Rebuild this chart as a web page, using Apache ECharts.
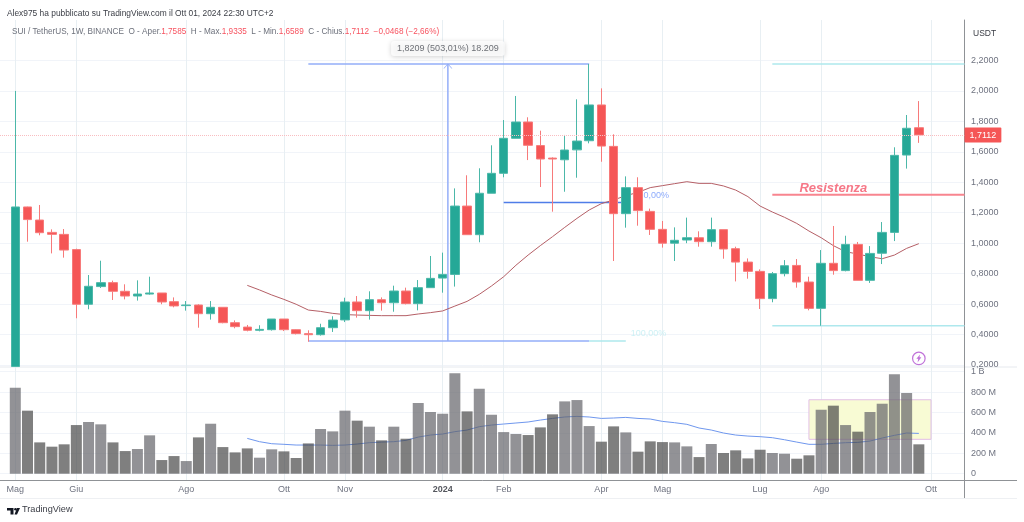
<!DOCTYPE html>
<html>
<head>
<meta charset="utf-8">
<style>
  html, body { margin: 0; padding: 0; background: #fff; }
  #chart { width: 1024px; height: 522px; }
</style>
<script src="https://cdn.jsdelivr.net/npm/echarts@6/dist/echarts.min.js"></script>
</head>
<body>
<div id="chart"></div>
<script>
var weeks = [
  '2023-05-01','2023-05-08','2023-05-15','2023-05-22','2023-05-29','2023-06-05','2023-06-12','2023-06-19','2023-06-26','2023-07-03',
  '2023-07-10','2023-07-17','2023-07-24','2023-07-31','2023-08-07','2023-08-14','2023-08-21','2023-08-28','2023-09-04','2023-09-11',
  '2023-09-18','2023-09-25','2023-10-02','2023-10-09','2023-10-16','2023-10-23','2023-10-30','2023-11-06','2023-11-13','2023-11-20',
  '2023-11-27','2023-12-04','2023-12-11','2023-12-18','2023-12-25','2024-01-01','2024-01-08','2024-01-15','2024-01-22','2024-01-29',
  '2024-02-05','2024-02-12','2024-02-19','2024-02-26','2024-03-04','2024-03-11','2024-03-18','2024-03-25','2024-04-01','2024-04-08',
  '2024-04-15','2024-04-22','2024-04-29','2024-05-06','2024-05-13','2024-05-20','2024-05-27','2024-06-03','2024-06-10','2024-06-17',
  '2024-06-24','2024-07-01','2024-07-08','2024-07-15','2024-07-22','2024-07-29','2024-08-05','2024-08-12','2024-08-19','2024-08-26',
  '2024-09-02','2024-09-09','2024-09-16','2024-09-23','2024-09-30'
];
var opens = [
  0.19,1.238,1.152,1.071,1.058,0.958,0.599,0.715,0.741,0.684,
  0.653,0.666,0.673,0.616,0.590,0.594,0.537,0.579,0.478,0.449,
  0.428,0.432,0.502,0.432,0.406,0.399,0.445,0.496,0.614,0.557,
  0.629,0.609,0.686,0.603,0.708,0.771,0.795,1.244,1.056,1.328,
  1.459,1.689,1.796,1.641,1.559,1.548,1.613,1.673,1.908,1.636,
  1.194,1.365,1.209,1.091,1.000,1.021,1.036,1.010,1.089,0.964,
  0.876,0.815,0.636,0.800,0.854,0.745,0.572,0.868,0.820,0.992,
  0.756,0.934,1.071,1.579,1.7585
];
var closes = [
  1.238,1.155,1.069,1.058,0.955,0.599,0.717,0.741,0.684,0.653,
  0.666,0.673,0.614,0.588,0.594,0.537,0.579,0.478,0.452,0.428,
  0.434,0.502,0.432,0.406,0.399,0.445,0.495,0.614,0.557,0.629,
  0.609,0.686,0.603,0.708,0.769,0.795,1.244,1.056,1.328,1.459,
  1.689,1.796,1.643,1.553,1.553,1.612,1.671,1.908,1.638,1.194,
  1.365,1.214,1.091,1.000,1.019,1.036,1.010,1.089,0.962,0.876,
  0.815,0.636,0.800,0.852,0.745,0.572,0.868,0.820,0.992,0.756,
  0.933,1.071,1.577,1.755,1.7112
];
var lows = [
  0.19,1.010,1.052,0.933,0.905,0.507,0.566,0.706,0.627,0.631,
  0.623,0.662,0.599,0.579,0.557,0.445,0.498,0.474,0.441,0.421,
  0.421,0.426,0.423,0.401,0.353,0.393,0.417,0.482,0.511,0.498,
  0.557,0.550,0.598,0.559,0.708,0.675,0.715,1.056,1.006,1.328,
  1.433,1.689,1.546,1.369,1.207,1.338,1.430,1.656,1.535,0.883,
  1.102,1.115,1.054,0.971,0.883,1.000,0.977,0.977,0.898,0.749,
  0.767,0.568,0.612,0.782,0.708,0.559,0.458,0.793,0.815,0.756,
  0.739,0.863,1.014,1.490,1.6589
];
var highs = [
  2.000,1.240,1.251,1.091,1.093,0.964,0.791,0.885,0.754,0.730,
  0.756,0.780,0.673,0.644,0.620,0.599,0.620,0.579,0.493,0.463,
  0.461,0.502,0.502,0.434,0.428,0.471,0.520,0.642,0.653,0.684,
  0.644,0.721,0.708,0.758,0.916,0.938,1.360,1.446,1.492,1.643,
  1.809,1.967,1.827,1.739,1.564,1.711,1.945,2.177,2.017,1.715,
  1.439,1.433,1.227,1.146,1.104,1.168,1.078,1.168,1.089,0.977,
  0.900,0.828,0.811,0.889,0.896,0.780,0.955,1.113,1.049,1.008,
  0.981,1.139,1.630,1.842,1.9335
];
var volumes = [
  843,618,307,265,288,477,507,484,307,222,
  242,376,134,173,124,356,490,261,209,248,
  157,239,219,154,297,438,415,618,520,461,
  327,461,343,693,605,588,984,611,833,578,
  408,389,379,454,582,709,722,467,314,464,
  405,216,317,310,307,268,163,291,203,229,
  150,235,203,196,147,180,627,667,477,412,
  605,686,974,791,288
];
var priceMa = [
  null,null,null,null,null,null,null,null,null,null,
  null,null,null,null,null,null,null,null,null,0.723,
  0.693,0.660,0.631,0.599,0.561,0.552,0.539,0.531,0.528,0.526,
  0.524,0.524,0.524,0.535,0.544,0.555,0.587,0.618,0.664,0.719,
  0.780,0.855,0.922,0.984,1.043,1.104,1.163,1.218,1.260,1.284,
  1.312,1.334,1.365,1.378,1.391,1.404,1.393,1.393,1.376,1.349,
  1.306,1.244,1.205,1.170,1.130,1.080,1.036,0.984,0.944,0.929,
  0.911,0.898,0.922,0.966,0.997
];
var volumeMa = [
  null,null,null,null,null,null,null,null,null,null,
  null,null,null,null,null,null,null,null,null,346,
  314,294,288,281,281,281,278,281,291,304,
  310,314,327,359,379,389,412,428,461,477,
  487,497,507,526,542,556,562,556,542,546,
  552,542,536,513,500,484,448,428,399,379,
  369,363,353,333,310,288,288,297,304,307,
  320,350,376,399,395
];
var monthTicks = ['2023-05-01','2023-06-05','2023-08-07','2023-10-02','2023-11-06','2024-01-01','2024-02-05','2024-04-01','2024-05-06','2024-07-01','2024-08-05','2024-10-07'];
var monthLabels = ['Mag','Giu','Ago','Ott','Nov','2024','Feb','Apr','Mag','Lug','Ago','Ott'];
var priceTicks = [0.2,0.4,0.6,0.8,1.0,1.2,1.4,1.6,1.8,2.0,2.2];
var volumeTicks = [0,200,400,600,800,1000];

var lastPrice = 1.7112;
var rangeHigh = 2.177;
var rangeLow = 0.358;
var fibMid = 1.2675;
var levelHigh = 2.177;
var levelLow = 0.458;
var resistance = 1.318;

function ts(d) { return +echarts.time.parse(d); }

var WEEK = 7 * 24 * 3600 * 1000;
var xMin = ts(weeks[0]) - 1.253 * WEEK;
var xMax = ts(weeks[0]) + 77.74 * WEEK;
var monthValues = monthTicks.map(ts);

var FONT = '"Liberation Sans", Arial, sans-serif';
var UP = '#25a897', DOWN = '#f55656';
var TEXT = '#6f7380', GRID_H = '#f1f4f9', GRID_V = '#e8eff3';
var BLUE = '#93aef8', CYAN = '#aee8ed';

var chart = echarts.init(document.getElementById('chart'));

function segment(name, points, color, width, extra) {
  return Object.assign({
    name: name,
    type: 'line',
    xAxisIndex: 0,
    yAxisIndex: 0,
    z: 1,
    symbol: 'none',
    silent: true,
    lineStyle: { color: color, width: width },
    data: points
  }, extra || {});
}

function note(name, point, text, style, z) {
  return {
    name: name,
    type: 'scatter',
    xAxisIndex: 0,
    yAxisIndex: 0,
    z: z,
    silent: true,
    symbolSize: 0,
    data: [point],
    label: Object.assign({ show: true, position: 'inside', formatter: text, fontFamily: FONT }, style)
  };
}

function xAxisFor(gridIndex, withLabels) {
  return {
    type: 'value',
    gridIndex: gridIndex,
    min: xMin,
    max: xMax,
    axisLine: {
      show: withLabels,
      onZero: false,
      lineStyle: { color: '#8f9296', width: 1 }
    },
    axisTick: { show: false, customValues: monthValues },
    splitLine: { show: true, lineStyle: { color: GRID_V, width: 1 } },
    axisLabel: {
      show: withLabels,
      customValues: monthValues,
      hideOverlap: false,
      showMinLabel: true,
      showMaxLabel: true,
      margin: 5,
      color: TEXT,
      fontSize: 9,
      fontFamily: FONT,
      formatter: function(value) {
        var label = monthLabels[monthValues.indexOf(value)];
        return label === '2024' ? '{b|2024}' : label;
      },
      rich: { b: { fontWeight: 'bold', fontSize: 9, color: '#55585f', fontFamily: FONT } }
    }
  };
}

chart.setOption({
  animation: false,
  backgroundColor: '#fff',
  title: [
    {
      left: 2, top: 5,
      text: 'Alex975 ha pubblicato su TradingView.com il Ott 01, 2024 22:30 UTC+2',
      textStyle: { fontSize: 8.4, fontWeight: 'normal', color: '#3a3d45', fontFamily: FONT }
    },
    {
      left: 7, top: 23,
      text: '{g|SUI / TetherUS, 1W, BINANCE  O - Aper.}{r|1,7585}{g|  H - Max.}{r|1,9335}{g|  L - Min.}{r|1,6589}{g|  C - Chius.}{r|1,7112}{r|  −0,0468 (−2,66%)}',
      textStyle: {
        rich: {
          g: { fontSize: 8.2, fontWeight: 'normal', color: '#6c707b', fontFamily: FONT },
          r: { fontSize: 8.2, fontWeight: 'normal', color: '#f7525f', fontFamily: FONT }
        }
      }
    },
    {
      left: 968, top: 24,
      text: 'USDT',
      textStyle: { fontSize: 8.5, fontWeight: 'normal', color: '#3a3d45', fontFamily: FONT }
    }
  ],
  grid: [
    { left: 0, top: 20, width: 964.5, height: 348 },
    { left: 0, top: 368, width: 964.5, height: 112.3 }
  ],
  xAxis: [xAxisFor(0, false), xAxisFor(1, true)],
  yAxis: [
    {
      type: 'value',
      gridIndex: 0,
      position: 'right',
      min: 0.1803,
      max: 2.466,
      axisLine: { show: true, lineStyle: { color: '#8f9296', width: 1 } },
      axisTick: { show: false, customValues: priceTicks },
      splitLine: { show: true, lineStyle: { color: GRID_H, width: 1 } },
      axisLabel: {
        customValues: priceTicks,
        margin: 6.5,
        color: TEXT,
        fontSize: 9,
        fontFamily: FONT,
        formatter: function(v) { return v.toFixed(4).replace('.', ','); }
      }
    },
    {
      type: 'value',
      gridIndex: 1,
      position: 'right',
      min: -64.7,
      max: 1036.3,
      axisLine: { show: true, lineStyle: { color: '#8f9296', width: 1 } },
      axisTick: { show: false, customValues: volumeTicks },
      splitLine: { show: true, lineStyle: { color: GRID_H, width: 1 } },
      axisLabel: {
        customValues: volumeTicks,
        margin: 6.5,
        color: TEXT,
        fontSize: 9,
        fontFamily: FONT,
        formatter: function(v) {
          if (v === 0) return '0';
          return v >= 1000 ? '1 B' : v + ' M';
        }
      }
    }
  ],
  series: [
    segment('Livello alto', [[ts('2024-07-08'), levelHigh], [xMax, levelHigh]], CYAN, 1.4),
    segment('Livello basso', [[ts('2024-07-08'), levelLow], [xMax, levelLow]], CYAN, 1.4),
    segment('Resistenza', [[ts('2024-07-08'), resistance], [xMax, resistance]], '#f8858f', 2),
    segment('Range alto', [[ts('2023-10-16'), rangeHigh], [ts('2024-03-25'), rangeHigh]], BLUE, 1.5),
    segment('Range basso', [[ts('2023-10-16'), rangeLow], [ts('2024-03-25'), rangeLow]], BLUE, 1.5),
    segment('Range basso est', [[ts('2024-03-25'), rangeLow], [ts('2024-04-15'), rangeLow]], CYAN, 1.4),
    segment('Fib 50', [[ts('2024-02-05'), fibMid], [ts('2024-04-15'), fibMid]], '#4f7de8', 1.4),
    segment('Range', [
      [ts('2024-01-04'), rangeLow],
      {
        value: [ts('2024-01-04'), rangeHigh],
        symbol: 'path://M0,10 L10,0 L20,10 L18,10 L10,2 L2,10 Z',
        symbolSize: [9, 5],
        symbolOffset: [0, 2],
        itemStyle: { color: BLUE }
      }
    ], BLUE, 1.5, { showSymbol: true, showAllSymbol: true }),
    note('Fib 50 label', [ts('2024-05-01'), 1.31], '50,00%', { fontSize: 9, color: '#6f95fb' }, 1),
    note('Fib 100 label', [ts('2024-04-28'), 0.41], '100,00%', { fontSize: 9, color: '#c2eef2' }, 1),
    note('Range label', [ts('2024-01-04'), 2.279], '1,8209 (503,01%) 18.209', {
      fontSize: 9,
      color: '#4a4d55',
      backgroundColor: '#fff',
      borderRadius: 3,
      padding: [3, 6],
      shadowColor: 'rgba(0,0,0,0.22)',
      shadowBlur: 5,
      shadowOffsetY: 1
    }, 6),
    note('Resistenza label', [ts('2024-08-12'), 1.363], 'Resistenza', {
      fontSize: 13,
      fontStyle: 'italic',
      fontWeight: 'bold',
      color: '#f4566a'
    }, 6),
    {
      name: 'MA',
      type: 'line',
      xAxisIndex: 0,
      yAxisIndex: 0,
      z: 2,
      symbol: 'none',
      silent: true,
      lineStyle: { color: '#b55f66', width: 1 },
      data: weeks.map(function(d, i) { return [ts(d), priceMa[i]]; })
    },
    {
      name: 'SUI / TetherUS',
      type: 'candlestick',
      xAxisIndex: 0,
      yAxisIndex: 0,
      z: 3,
      silent: true,
      barWidth: 9,
      itemStyle: { color: UP, color0: DOWN, borderColor: '#4cb8a9', borderColor0: '#f77a7a', borderWidth: 1 },
      encode: { x: 0, y: [1, 2, 3, 4] },
      data: weeks.map(function(d, i) { return [ts(d), opens[i], closes[i], lows[i], highs[i]]; }),
      markLine: {
        silent: true,
        symbol: 'none',
        animation: false,
        lineStyle: { color: '#f9bdc1', type: 'dotted', width: 1 },
        label: {
          show: true,
          position: 'end',
          distance: 0,
          formatter: '1,7112',
          color: '#fff',
          fontSize: 9,
          fontFamily: FONT,
          backgroundColor: DOWN,
          padding: [3, 5],
          borderRadius: 1
        },
        data: [{ yAxis: lastPrice }]
      }
    },
    {
      name: 'Allerta',
      type: 'scatter',
      xAxisIndex: 0,
      yAxisIndex: 0,
      z: 6,
      silent: true,
      symbol: 'circle',
      symbolSize: 12.5,
      itemStyle: { color: '#fff', borderColor: '#b04fd0', borderWidth: 1.2 },
      data: [[ts('2024-09-30'), 0.243]]
    },
    {
      name: 'Allerta icona',
      type: 'scatter',
      xAxisIndex: 0,
      yAxisIndex: 0,
      z: 7,
      silent: true,
      symbol: 'path://M6,0 L0,6 L3,6 L2,11 L8,4 L5,4 Z',
      symbolSize: [5, 8],
      itemStyle: { color: '#b04fd0' },
      data: [[ts('2024-09-30'), 0.243]]
    },
    {
      name: 'Volume MA',
      type: 'line',
      xAxisIndex: 1,
      yAxisIndex: 1,
      z: 1,
      symbol: 'none',
      silent: true,
      lineStyle: { color: '#6f97ee', width: 1 },
      data: weeks.map(function(d, i) { return [ts(d), volumeMa[i]]; })
    },
    {
      name: 'Volume',
      type: 'bar',
      xAxisIndex: 1,
      yAxisIndex: 1,
      z: 2,
      silent: true,
      barWidth: 11,
      data: weeks.map(function(d, i) {
        return {
          value: [ts(d), volumes[i]],
          itemStyle: { color: closes[i] >= opens[i] ? 'rgba(100,100,106,0.7)' : 'rgba(72,72,72,0.7)' }
        };
      }),
      markArea: {
        silent: true,
        itemStyle: { color: '#f8fbd4', opacity: 1, borderColor: '#e2bfe6', borderWidth: 1 },
        data: [[
          { xAxis: ts('2024-07-29'), yAxis: 725 },
          { xAxis: ts('2024-10-07'), yAxis: 337 }
        ]]
      }
    }
  ],
  graphic: [
    { type: 'line', silent: true, shape: { x1: 964.5, y1: 480.5, x2: 1017, y2: 480.5 }, style: { stroke: '#8f9296', lineWidth: 1 } },
    { type: 'line', silent: true, shape: { x1: 964.5, y1: 480, x2: 964.5, y2: 498 }, style: { stroke: '#8f9296', lineWidth: 1 } },
    { type: 'line', silent: true, shape: { x1: 0, y1: 498.5, x2: 1017, y2: 498.5 }, style: { stroke: '#eef0f3', lineWidth: 1 } },
    { type: 'line', silent: true, shape: { x1: 0, y1: 367, x2: 1017, y2: 367 }, style: { stroke: '#e6e9ee', lineWidth: 1 } },
    // TradingView logo
    { type: 'polygon', silent: true, shape: { points: [[7,508],[13.5,508],[13.5,514.5],[10.5,514.5],[10.5,510.5],[7,510.5]] }, style: { fill: '#131722' } },
    { type: 'polygon', silent: true, shape: { points: [[17,508],[20,508],[17,514.5],[14.5,514.5]] }, style: { fill: '#131722' } },
    { type: 'circle', silent: true, shape: { cx: 15.5, cy: 509.3, r: 1.3 }, style: { fill: '#131722' } },
    {
      type: 'text',
      silent: true,
      left: 22, top: 505,
      style: { text: 'TradingView', fontSize: 9.2, fill: '#3a3d45', fontFamily: FONT }
    }
  ]
});
window.addEventListener('resize', function() { chart.resize(); });
</script>
</body>
</html>
